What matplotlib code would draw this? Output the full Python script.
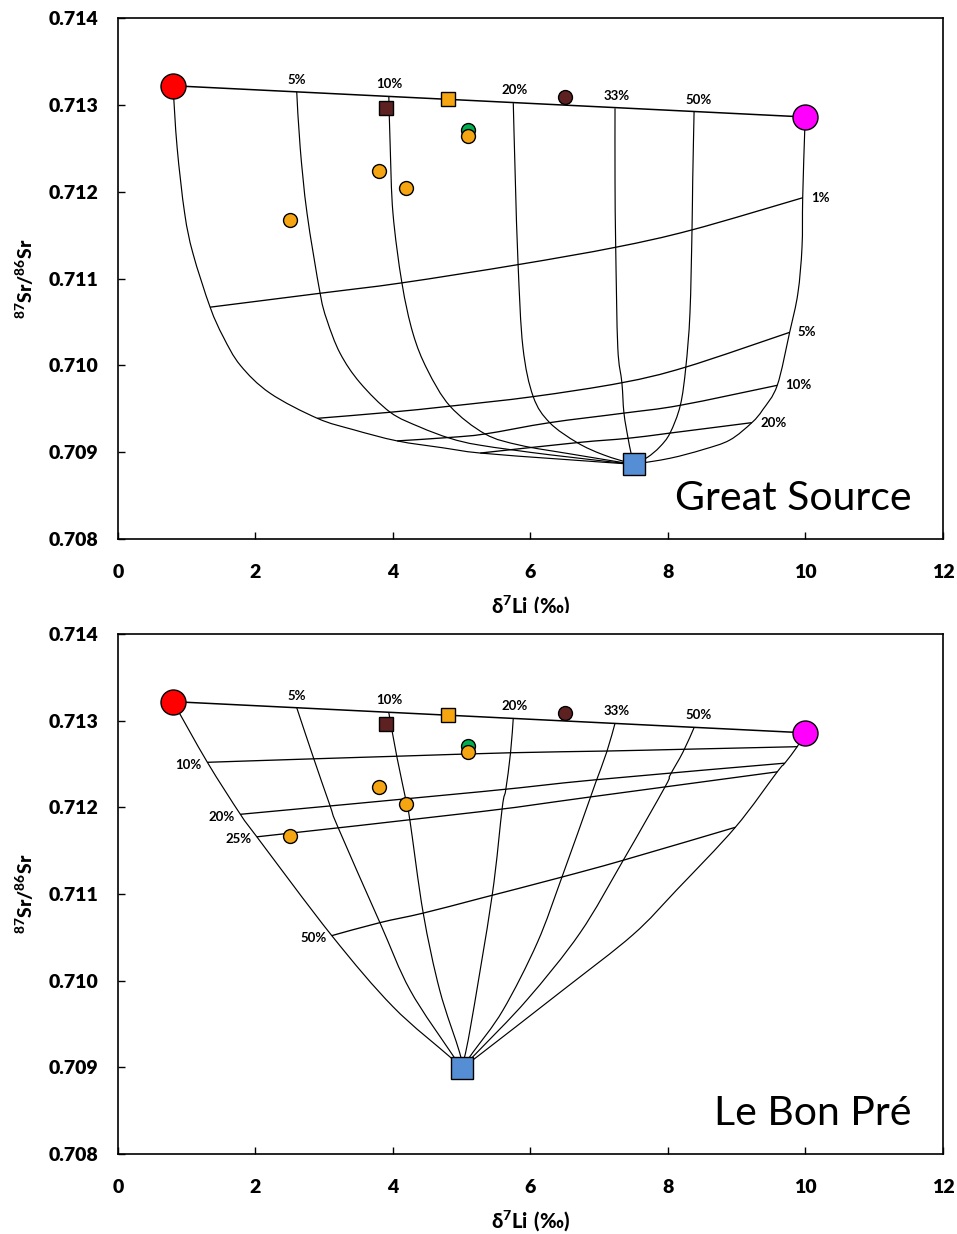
import matplotlib
matplotlib.use("Agg")
import matplotlib.pyplot as plt
from matplotlib.path import Path
from matplotlib.patches import PathPatch, Rectangle

plt.rcParams["font.family"] = ["Lato", "DejaVu Sans"]
plt.rcParams["mathtext.fontset"] = "custom"
plt.rcParams["mathtext.rm"] = "Lato"
plt.rcParams["mathtext.bf"] = "Lato:black"

# end members
red_x, red_y = 0.8, 0.71322
mag_x, mag_y = 10.0, 0.71286
gs_blue_x, gs_blue_y = 7.5, 0.70886
lbp_blue_x, lbp_blue_y = 5.0, 0.70899

# samples
brown_sq_x, brown_sq_y = [3.9], [0.71296]
orange_sq_x, orange_sq_y = [4.8], [0.71307]
brown_ci_x, brown_ci_y = [6.5], [0.71309]
green_x, green_y = [5.09], [0.71271]
orange_x = [5.09, 3.8, 4.19, 2.5]
orange_y = [0.71264, 0.71224, 0.71204, 0.71167]

top_labels = ["5%", "10%", "20%", "33%", "50%"]
top_label_x = [2.60, 3.94, 5.77, 7.26, 8.44]

# Great Source: mixing curves (red, 5, 10, 20, 33, 50 %, magenta -> blue)
gs_curves_x = [
    [0.80, 0.86, 0.97, 1.09, 1.34, 1.53, 1.78, 2.21, 2.90, 3.42, 4.06, 4.73, 5.27, 6.43, 7.50],
    [2.60, 2.65, 2.75, 2.94, 3.04, 3.23, 3.52, 3.96, 4.39, 4.83, 5.27, 6.28, 7.50],
    [3.94, 3.96, 4.00, 4.13, 4.29, 4.50, 4.83, 5.34, 5.85, 6.58, 7.50],
    [5.75, 5.78, 5.82, 5.89, 6.04, 6.28, 6.68, 7.06, 7.50],
    [7.23, 7.23, 7.24, 7.27, 7.33, 7.36, 7.42, 7.46, 7.50],
    [8.38, 8.36, 8.35, 8.32, 8.26, 8.18, 8.03, 7.88, 7.70, 7.50],
    [10.0, 9.99, 9.96, 9.95, 9.89, 9.77, 9.59, 9.38, 9.22, 8.90, 8.51, 8.03, 7.50],
]
gs_curves_y = [
    [0.71322, 0.71251, 0.71175, 0.71129, 0.71067, 0.71033, 0.71000, 0.70968, 0.70939, 0.70926, 0.70913, 0.70905, 0.70899, 0.70892, 0.70886],
    [0.71315, 0.71251, 0.71175, 0.71083, 0.71052, 0.71014, 0.70980, 0.70946, 0.70929, 0.70916, 0.70908, 0.70897, 0.70886],
    [0.71309, 0.71251, 0.71175, 0.71095, 0.71037, 0.70995, 0.70953, 0.70921, 0.70908, 0.70898, 0.70886],
    [0.71302, 0.71213, 0.71116, 0.71021, 0.70964, 0.70934, 0.70911, 0.70897, 0.70886],
    [0.71296, 0.71213, 0.71136, 0.71021, 0.70980, 0.70945, 0.70916, 0.70900, 0.70886],
    [0.71292, 0.71213, 0.71156, 0.71060, 0.70998, 0.70954, 0.70922, 0.70906, 0.70894, 0.70886],
    [0.71286, 0.71271, 0.71193, 0.71136, 0.71083, 0.71038, 0.70977, 0.70949, 0.70934, 0.70914, 0.70903, 0.70893, 0.70886],
]
gs_mix_labels = ["1%", "5%", "10%", "20%"]
gs_mix_x = [
    [1.34, 2.94, 4.13, 5.82, 7.24, 8.35, 9.96],
    [2.90, 3.96, 4.83, 6.04, 7.33, 8.26, 9.77],
    [4.06, 4.83, 5.34, 6.28, 7.36, 8.18, 9.59],
    [5.27, 6.68, 7.42, 8.03, 9.22],
]
gs_mix_y = [
    [0.71067, 0.71083, 0.71095, 0.71116, 0.71136, 0.71156, 0.71193],
    [0.70939, 0.70946, 0.70953, 0.70964, 0.70980, 0.70998, 0.71038],
    [0.70913, 0.70917, 0.70921, 0.70934, 0.70945, 0.70954, 0.70977],
    [0.70899, 0.70911, 0.70916, 0.70922, 0.70934],
]

# Le Bon Pre
lbp_curves_x = [
    [0.80, 1.30, 1.78, 2.02, 3.11, 4.00, 4.83, 5.00],
    [2.60, 2.84, 3.08, 3.20, 3.81, 4.25, 4.87, 5.00],
    [3.94, 4.06, 4.20, 4.25, 4.44, 4.68, 4.97, 5.00],
    [5.75, 5.71, 5.64, 5.59, 5.44, 5.12, 5.00],
    [7.23, 7.11, 6.95, 6.87, 6.46, 6.10, 5.60, 5.16, 5.00],
    [8.38, 8.22, 8.03, 7.96, 7.35, 6.72, 5.95, 5.22, 5.00],
    [10.00, 9.88, 9.70, 9.59, 8.98, 8.13, 7.49, 6.47, 5.22, 5.00],
]
lbp_curves_y = [
    [0.71322, 0.71252, 0.71192, 0.71166, 0.71052, 0.70970, 0.70912, 0.70899],
    [0.71315, 0.71258, 0.71203, 0.71177, 0.71067, 0.70989, 0.70914, 0.70899],
    [0.71309, 0.71257, 0.71204, 0.71183, 0.71078, 0.70989, 0.70917, 0.70899],
    [0.71303, 0.71263, 0.71220, 0.71200, 0.71097, 0.70943, 0.70899],
    [0.71297, 0.71264, 0.71229, 0.71211, 0.71120, 0.71044, 0.70966, 0.70917, 0.70899],
    [0.71292, 0.71264, 0.71237, 0.71224, 0.71139, 0.71055, 0.70978, 0.70917, 0.70899],
    [0.71286, 0.71270, 0.71251, 0.71241, 0.71177, 0.71105, 0.71053, 0.70989, 0.70912, 0.70899],
]
lbp_mix_labels = ["10%", "20%", "25%", "50%"]
lbp_mix_x = [
    [1.30, 2.84, 4.06, 5.71, 7.11, 8.22, 9.88],
    [1.78, 5.27, 6.97, 9.70],
    [2.02, 5.27, 6.87, 9.59],
    [3.11, 3.81, 4.44, 5.27, 6.43, 7.35, 8.98],
]
lbp_mix_y = [
    [0.71252, 0.71256, 0.71259, 0.71263, 0.71265, 0.71267, 0.71270],
    [0.71192, 0.71218, 0.71232, 0.71251],
    [0.71166, 0.71195, 0.71212, 0.71241],
    [0.71052, 0.71067, 0.71078, 0.71095, 0.71119, 0.71139, 0.71177],
]

ORANGE = "#F5A511"


def smooth_line(ax, xs, ys, lw):
    # Excel-style smoothed line: Catmull-Rom segments drawn as cubic Beziers
    # in display space so the smoothing is not distorted by the axis scales
    pts = ax.transData.transform(list(zip(xs, ys)))
    n = len(pts)
    verts = [pts[0]]
    codes = [Path.MOVETO]
    for i in range(n - 1):
        p0 = pts[i - 1] if i > 0 else pts[i]
        p1, p2 = pts[i], pts[i + 1]
        p3 = pts[i + 2] if i + 2 < n else pts[i + 1]
        c1 = p1 + (p2 - p0) / 6.0
        c2 = p2 - (p3 - p1) / 6.0
        verts += [c1, c2, p2]
        codes += [Path.CURVE4] * 3
    patch = PathPatch(Path(verts, codes), fill=False, edgecolor="black", lw=lw,
                      zorder=2)
    patch.set_transform(matplotlib.transforms.IdentityTransform())
    ax.add_artist(patch)
    patch.set_clip_box(ax.bbox)


def draw_panel(ax, curves_x, curves_y, mix_x, mix_y, blue_x, blue_y, name):
    ax.set_xlim(0, 12)
    ax.set_ylim(0.708, 0.714)
    for cx, cy in zip(curves_x, curves_y):
        smooth_line(ax, cx, cy, 0.85)
    for mx, my in zip(mix_x, mix_y):
        smooth_line(ax, mx, my, 0.95)
    ax.plot([red_x, mag_x], [red_y, mag_y], color="black", lw=1.1, zorder=2)

    # top-line labels
    for lab, lx in zip(top_labels, top_label_x):
        ly = red_y + (mag_y - red_y) * (lx - red_x) / (mag_x - red_x) + 0.00014
        ax.text(lx, ly, lab, fontsize=9.5, fontweight="bold", ha="center", va="center")

    kw = dict(linestyle="none", markeredgecolor="black", markeredgewidth=1.0, zorder=5)
    ax.plot([red_x], [red_y], marker="o", ms=18, color="#FF0000", **kw)
    ax.plot([mag_x], [mag_y], marker="o", ms=18, color="#FF00FF", **kw)
    ax.plot([blue_x], [blue_y], marker="s", ms=16.5, color="#558ED5", **kw)
    ax.plot(brown_sq_x, brown_sq_y, marker="s", ms=9.5, color="#5E2121", **kw)
    ax.plot(orange_sq_x, orange_sq_y, marker="s", ms=9.5, color=ORANGE, **kw)
    ax.plot(brown_ci_x, brown_ci_y, marker="o", ms=10, color="#5E2121", **kw)
    ax.plot(green_x, green_y, marker="o", ms=10, color="#00B050", **kw)
    ax.plot(orange_x, orange_y, marker="o", ms=10, color=ORANGE, **kw)

    ax.set_xticks(range(0, 13, 2))
    ax.set_yticks([0.708, 0.709, 0.710, 0.711, 0.712, 0.713, 0.714])
    ax.yaxis.set_major_formatter(plt.FuncFormatter(lambda v, p: f"{v:.3f}"))
    ax.tick_params(direction="in", length=5, width=1, labelsize=14)
    ax.tick_params(axis="y", pad=14)
    ax.tick_params(axis="x", pad=18)
    for lbl in ax.get_xticklabels() + ax.get_yticklabels():
        lbl.set_fontweight("heavy")
    for sp in ax.spines.values():
        sp.set_linewidth(1.2)

    ax.set_xlabel(r"$\mathbf{\delta^7Li\ (‰)}$", fontsize=14.5)
    ax.xaxis.set_label_coords(0.5, -0.106)
    ax.set_ylabel(r"$\mathbf{^{87}Sr/^{86}Sr}$", fontsize=14)
    ax.yaxis.set_label_coords(-0.1, 0.5)
    ax.text(0.962, 0.077, name, transform=ax.transAxes, fontsize=29.5,
            ha="right", va="center")


fig = plt.figure(figsize=(9.57, 12.34), dpi=100)
ax_top = fig.add_axes([0.1233, 0.5632, 0.862, 0.4222])
ax_bot = fig.add_axes([0.1233, 0.0648, 0.862, 0.4214])

draw_panel(ax_top, gs_curves_x, gs_curves_y, gs_mix_x, gs_mix_y,
           gs_blue_x, gs_blue_y, "Great Source")
# right-hand labels for the Great Source cross lines
for lab, mx, my in zip(gs_mix_labels, gs_mix_x, gs_mix_y):
    ax_top.text(mx[-1] + 0.12, my[-1], lab, fontsize=9.5, fontweight="bold",
                ha="left", va="center")

draw_panel(ax_bot, lbp_curves_x, lbp_curves_y, lbp_mix_x, lbp_mix_y,
           lbp_blue_x, lbp_blue_y, "Le Bon Pré")
for lab, mx, my in zip(lbp_mix_labels, lbp_mix_x, lbp_mix_y):
    ax_bot.text(mx[0] - 0.08, my[0] - 0.00003, lab, fontsize=9.5, fontweight="bold",
                ha="right", va="center")

# the upper chart was cropped just below its axis title
fig.patches.append(Rectangle((0.3, 1 - 622 / 1234), 0.4, 9 / 1234,
                             transform=fig.transFigure, facecolor="white",
                             edgecolor="none", zorder=10))

fig.savefig("out.png", dpi=100)
